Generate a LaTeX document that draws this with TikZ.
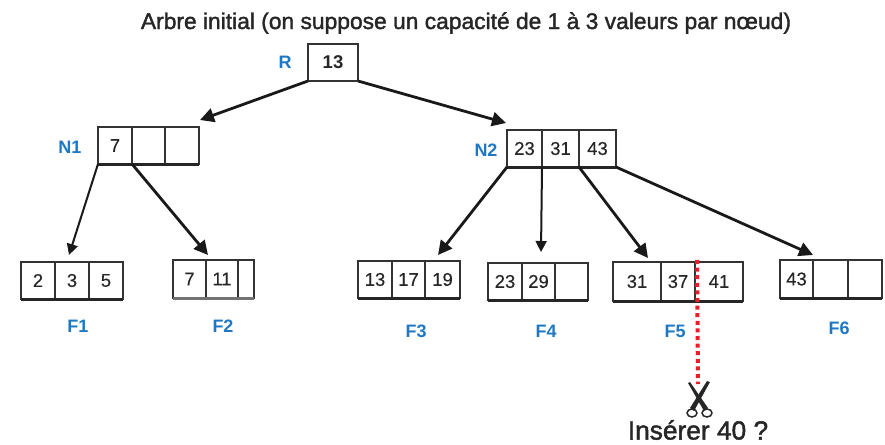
\documentclass[tikz,border=0pt]{standalone}
\usepackage{fontspec}
\setmainfont{Liberation Sans}
\newfontfamily\heavy[FakeBold=1.6]{Liberation Sans}
\newfontfamily\semi[FakeBold=0.25]{Liberation Sans}
\usetikzlibrary{arrows.meta}
\definecolor{lab}{HTML}{1F78C4}
\definecolor{cut}{HTML}{EC1C2C}
\definecolor{edge}{HTML}{333333}
\tikzset{
  cell/.style={draw=edge,line width=1.2pt,anchor=north west,inner sep=0pt,outer sep=0pt,font=\semi\fontsize{18.5}{19}\selectfont,text=black!85},
  base/.style={line width=3pt,draw=black!85},
  lnk/.style={line width=2.8pt,draw=black!90,-{Triangle[length=14pt,width=14pt]},shorten >=0pt},
  thinlnk/.style={line width=2pt,draw=black!90,-{Triangle[length=11pt,width=11pt]}},
  lbl/.style={text=lab,font=\bfseries\fontsize{18}{19}\selectfont,inner sep=0pt},
  blade/.style={fill=black!85,draw=none},
  ring/.style={draw=black!85,line width=1.5pt,fill=none}
}
\begin{document}
\begin{tikzpicture}[x=1pt,y=-1pt]
\useasboundingbox (0,0) rectangle (885,444);
\node[inner sep=0pt,font=\heavy\fontsize{22.8}{24}\selectfont,text=black!85] (title) at (466,23) {Arbre initial (on suppose un capacité de 1 à 3 valeurs par nœud)};
% R
\node[cell,line width=2.4pt,minimum width=50pt,minimum height=37pt,font=\bfseries\fontsize{18.5}{19}\selectfont] (r) at (308,44) {13};
\node[lbl] (lr) at (285,62) {R};
% N1
\node[cell,minimum width=34pt,minimum height=37pt] (n1a) at (98,127) {7};
\node[cell,minimum width=33pt,minimum height=37pt] (n1b) at (132,127) {};
\node[cell,minimum width=34pt,minimum height=37pt] (n1c) at (165,127) {};
\draw[base] (n1a.south west) -- (n1c.south east);
\node[lbl] (ln1) at (70,147) {N1};
% N2
\node[cell,minimum width=35pt,minimum height=37pt] (n2a) at (507,130) {23};
\node[cell,minimum width=37pt,minimum height=37pt] (n2b) at (542,130) {31};
\node[cell,minimum width=37pt,minimum height=37pt] (n2c) at (579,130) {43};
\draw[base] (n2a.south west) -- (n2c.south east);
\node[lbl] (ln2) at (486,150) {N2};
% F1
\node[cell,minimum width=34pt,minimum height=37pt] (f1a) at (21,262) {2};
\node[cell,minimum width=34pt,minimum height=37pt] (f1b) at (55,262) {3};
\node[cell,minimum width=34pt,minimum height=37pt] (f1c) at (89,262) {5};
\draw[base] (f1a.south west) -- (f1c.south east);
\node[lbl] (lf1) at (78,326) {F1};
% F2
\node[cell,minimum width=33pt,minimum height=38pt] (f2a) at (173,260) {7};
\node[cell,minimum width=32pt,minimum height=38pt] (f2b) at (206,260) {11};
\node[cell,minimum width=16pt,minimum height=38pt] (f2c) at (238,260) {};
\draw[base,draw=black!55] (f2a.south west) -- (f2c.south east);
\node[lbl] (lf2) at (223,326) {F2};
% F3
\node[cell,minimum width=34pt,minimum height=37pt] (f3a) at (358,261) {13};
\node[cell,minimum width=33pt,minimum height=37pt] (f3b) at (392,261) {17};
\node[cell,minimum width=35pt,minimum height=37pt] (f3c) at (425,261) {19};
\draw[base] (f3a.south west) -- (f3c.south east);
\node[lbl] (lf3) at (416,331) {F3};
% F4
\node[cell,minimum width=34pt,minimum height=37pt] (f4a) at (488,263) {23};
\node[cell,minimum width=33pt,minimum height=37pt] (f4b) at (522,263) {29};
\node[cell,minimum width=33pt,minimum height=37pt] (f4c) at (555,263) {};
\draw[base] (f4a.south west) -- (f4c.south east);
\node[lbl] (lf4) at (546,331) {F4};
% F5
\node[cell,minimum width=48pt,minimum height=39pt] (f5a) at (613,262) {31};
\node[cell,minimum width=34pt,minimum height=39pt] (f5b) at (661,262) {37};
\node[cell,minimum width=48pt,minimum height=39pt] (f5c) at (695,262) {41};
\draw[base] (f5a.south west) -- (f5c.south east);
\node[lbl] (lf5) at (675,331) {F5};
% F6
\node[cell,minimum width=33pt,minimum height=38pt] (f6a) at (780,260) {43};
\node[cell,minimum width=35pt,minimum height=38pt] (f6b) at (813,260) {};
\node[cell,minimum width=34pt,minimum height=38pt] (f6c) at (848,260) {};
\draw[base] (f6a.south west) -- (f6c.south east);
\node[lbl] (lf6) at (839,328) {F6};
% arrow targets
\coordinate (tn1) at (200,120);
\coordinate (tn2) at (506,123);
\coordinate (tf1) at (69,255);
\coordinate (tf2) at (208,255);
\coordinate (tf3) at (438,255);
\coordinate (tf4) at (541,252);
\coordinate (tf5) at (648,258);
\coordinate (tf6) at (813,255);
\draw[lnk] (r.south west) -- (tn1);
\draw[lnk] (r.south east) -- (tn2);
\draw[thinlnk] (n1a.south west) -- (tf1);
\draw[lnk] (n1a.south east) -- (tf2);
\draw[lnk] (n2a.south west) -- (tf3);
\draw[thinlnk] (n2a.south east) -- (tf4);
\draw[lnk] (n2b.south east) -- (tf5);
\draw[lnk] (n2c.south east) -- (tf6);
% cut line
\coordinate (cuttop) at (697,260);
\coordinate (cutend) at (698,384);
\draw[cut,line width=4pt,dash pattern=on 4pt off 3.6pt] (cuttop) -- (cutend);
% scissors
\fill[blade] (688,383) -- (690,382) -- (708,408) -- (704,411) -- cycle;
\fill[blade] (710,382) -- (707,381) -- (690,408) -- (694,411) -- cycle;
\draw[ring] (692,413) ellipse (5pt and 4pt);
\draw[ring] (707,413) ellipse (5pt and 4pt);
\node[inner sep=0pt,font=\heavy\fontsize{26.3}{27}\selectfont,text=black!85] (q) at (698,430) {Insérer 40 ?};
\end{tikzpicture}
\end{document}
